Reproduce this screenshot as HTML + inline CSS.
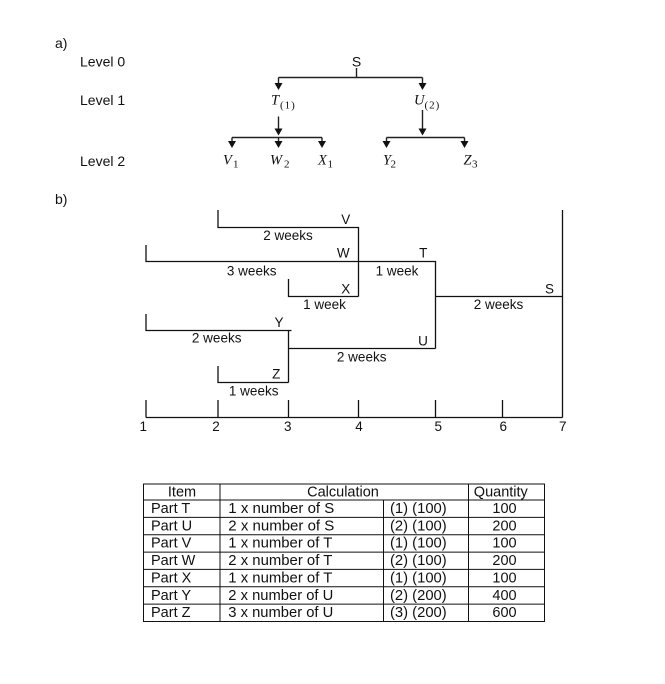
<!DOCTYPE html>
<html>
<head>
<meta charset="utf-8">
<style>
  html, body { margin:0; padding:0; background:#fff; }
  svg { display:block; }
  .s { font-family: "Liberation Sans", sans-serif; fill:#111; }
  .m { font-family: "Liberation Serif", serif; font-style: italic; fill:#111; }
  .sub { font-family: "Liberation Serif", serif; font-style: normal; fill:#111; }
</style>
</head>
<body>
<svg width="665" height="684" viewBox="0 0 665 684" xmlns="http://www.w3.org/2000/svg">
  <rect width="665" height="684" fill="#fff"/>

  <!-- ===== a) ===== -->
  <text class="s" x="55" y="48" font-size="14">a)</text>
  <text class="s" x="80" y="66.5" font-size="14">Level 0</text>
  <text class="s" x="80" y="105" font-size="14">Level 1</text>
  <text class="s" x="80" y="166" font-size="14">Level 2</text>

  <text class="s" x="356.5" y="66.7" font-size="14" text-anchor="middle">S</text>

  <g stroke="#222" stroke-width="1.4" fill="none">
    <line x1="356.5" y1="68" x2="356.5" y2="77.5"/>
    <line x1="278.5" y1="77.5" x2="422.5" y2="77.5"/>
    <line x1="278.5" y1="77.5" x2="278.5" y2="85"/>
    <line x1="422.5" y1="77.5" x2="422.5" y2="85"/>
    <!-- T stem -->
    <line x1="278.5" y1="116.5" x2="278.5" y2="131"/>
    <line x1="232" y1="137.5" x2="322" y2="137.5"/>
    <line x1="232" y1="137.5" x2="232" y2="143"/>
    <line x1="278.5" y1="137.5" x2="278.5" y2="143"/>
    <line x1="322" y1="137.5" x2="322" y2="143"/>
    <!-- U stem -->
    <line x1="422.5" y1="110" x2="422.5" y2="131"/>
    <line x1="386.5" y1="137.5" x2="464.5" y2="137.5"/>
    <line x1="386.5" y1="137.5" x2="386.5" y2="143"/>
    <line x1="464.5" y1="137.5" x2="464.5" y2="143"/>
  </g>
  <g fill="#111">
    <polygon points="274.5,83 282.5,83 278.5,90"/>
    <polygon points="418.5,83 426.5,83 422.5,90"/>
    <polygon points="274.5,128.5 282.5,128.5 278.5,135.5"/>
    <polygon points="418.5,128.5 426.5,128.5 422.5,135.5"/>
    <polygon points="228,141 236,141 232,148"/>
    <polygon points="274.5,141 282.5,141 278.5,148"/>
    <polygon points="318,141 326,141 322,148"/>
    <polygon points="382.5,141 390.5,141 386.5,148"/>
    <polygon points="460.5,141 468.5,141 464.5,148"/>
  </g>

  <!-- level 1 labels -->
  <text class="m" x="271" y="104.5" font-size="14.5">T</text>
  <text class="sub" x="280" y="108.5" font-size="11" letter-spacing="1">(1)</text>
  <text class="m" x="414" y="104.5" font-size="14.5">U</text>
  <text class="sub" x="424.5" y="108.5" font-size="11" letter-spacing="1">(2)</text>

  <!-- level 2 labels -->
  <text class="m" x="223" y="164.5" font-size="14.5">V</text>
  <text class="sub" x="233" y="167.5" font-size="11">1</text>
  <text class="m" x="270" y="164.5" font-size="14.5">W</text>
  <text class="sub" x="284" y="167.5" font-size="11">2</text>
  <text class="m" x="318" y="164.5" font-size="14.5">X</text>
  <text class="sub" x="327.5" y="167.5" font-size="11">1</text>
  <text class="m" x="383" y="164.5" font-size="14.5">Y</text>
  <text class="sub" x="390.5" y="167.5" font-size="11">2</text>
  <text class="m" x="463.5" y="164.5" font-size="14.5">Z</text>
  <text class="sub" x="472" y="167.5" font-size="11">3</text>

  <!-- ===== b) ===== -->
  <text class="s" x="55" y="204" font-size="14">b)</text>

  <g stroke="#111" stroke-width="1.3" fill="none">
    <polyline points="218,210 218,227.5 358.5,227.5 358.5,296.5"/>
    <polyline points="146,245 146,261.5 435.5,261.5 435.5,348.5"/>
    <polyline points="288.5,279 288.5,296.5 358.5,296.5"/>
    <line x1="435.5" y1="296.5" x2="562.5" y2="296.5"/>
    <line x1="562.5" y1="210" x2="562.5" y2="417.5"/>
    <polyline points="146,314 146,330.5 291.5,330.5"/>
    <line x1="288.5" y1="330.5" x2="288.5" y2="382.5"/>
    <line x1="288.5" y1="348.5" x2="435.5" y2="348.5"/>
    <polyline points="218,366 218,382.5 288.5,382.5"/>
    <!-- axis -->
    <line x1="146" y1="417.5" x2="562.5" y2="417.5"/>
    <line x1="146" y1="400" x2="146" y2="417.5"/>
    <line x1="218" y1="400" x2="218" y2="417.5"/>
    <line x1="288.5" y1="400" x2="288.5" y2="417.5"/>
    <line x1="358.5" y1="400" x2="358.5" y2="417.5"/>
    <line x1="435.5" y1="400" x2="435.5" y2="417.5"/>
    <line x1="502.5" y1="400" x2="502.5" y2="417.5"/>
  </g>

  <g class="s" font-size="13.5" text-anchor="middle">
    <text x="345.7" y="224">V</text>
    <text x="288" y="240">2 weeks</text>
    <text x="343.3" y="257.3">W</text>
    <text x="423.3" y="257.3">T</text>
    <text x="251.7" y="275.7">3 weeks</text>
    <text x="397" y="275.7">1 week</text>
    <text x="345.7" y="293.3">X</text>
    <text x="549.5" y="293.3">S</text>
    <text x="324.5" y="309">1 week</text>
    <text x="498.5" y="309">2 weeks</text>
    <text x="279" y="327">Y</text>
    <text x="216.7" y="342.7">2 weeks</text>
    <text x="423" y="345.5">U</text>
    <text x="361.7" y="361.7">2 weeks</text>
    <text x="276.3" y="378.3">Z</text>
    <text x="253.7" y="395.7">1 weeks</text>
    <!-- axis numbers -->
    <text x="143.3" y="430.8">1</text>
    <text x="216" y="430.8">2</text>
    <text x="287.7" y="430.8">3</text>
    <text x="359" y="430.8">4</text>
    <text x="438.3" y="430.8">5</text>
    <text x="503.3" y="430.8">6</text>
    <text x="562.7" y="430.8">7</text>
  </g>

  <!-- ===== table ===== -->
  <g stroke="#111" stroke-width="1" fill="none">
    <rect x="143.5" y="484" width="401" height="137.5"/>
    <line x1="220" y1="484" x2="220" y2="621.5"/>
    <line x1="468.5" y1="484" x2="468.5" y2="621.5"/>
    <line x1="383.5" y1="500" x2="383.5" y2="621.5"/>
    <line x1="143.5" y1="500" x2="544.5" y2="500"/>
    <line x1="143.5" y1="517.4" x2="544.5" y2="517.4"/>
    <line x1="143.5" y1="534.7" x2="544.5" y2="534.7"/>
    <line x1="143.5" y1="552.1" x2="544.5" y2="552.1"/>
    <line x1="143.5" y1="569.4" x2="544.5" y2="569.4"/>
    <line x1="143.5" y1="586.8" x2="544.5" y2="586.8"/>
    <line x1="143.5" y1="604.1" x2="544.5" y2="604.1"/>
  </g>

  <g class="s" font-size="14.5">
    <text x="182" y="496.5" text-anchor="middle">Item</text>
    <text x="343" y="496.5" text-anchor="middle">Calculation</text>
    <text x="500.8" y="496.5" text-anchor="middle">Quantity</text>

    <text x="151" y="513">Part T</text>
    <text x="151" y="530.4">Part U</text>
    <text x="151" y="547.7">Part V</text>
    <text x="151" y="565.1">Part W</text>
    <text x="151" y="582.4">Part X</text>
    <text x="151" y="599.8">Part Y</text>
    <text x="151" y="617.1">Part Z</text>

    <text x="228.3" y="513" textLength="106" lengthAdjust="spacingAndGlyphs">1 x number of S</text>
    <text x="228.3" y="530.4" textLength="106" lengthAdjust="spacingAndGlyphs">2 x number of S</text>
    <text x="228.3" y="547.7" textLength="104" lengthAdjust="spacingAndGlyphs">1 x number of T</text>
    <text x="228.3" y="565.1" textLength="104" lengthAdjust="spacingAndGlyphs">2 x number of T</text>
    <text x="228.3" y="582.4" textLength="104" lengthAdjust="spacingAndGlyphs">1 x number of T</text>
    <text x="228.3" y="599.8" textLength="105" lengthAdjust="spacingAndGlyphs">2 x number of U</text>
    <text x="228.3" y="617.1" textLength="105" lengthAdjust="spacingAndGlyphs">3 x number of U</text>

    <text x="390" y="513" textLength="56.7" lengthAdjust="spacingAndGlyphs">(1) (100)</text>
    <text x="390" y="530.4" textLength="56.7" lengthAdjust="spacingAndGlyphs">(2) (100)</text>
    <text x="390" y="547.7" textLength="56.7" lengthAdjust="spacingAndGlyphs">(1) (100)</text>
    <text x="390" y="565.1" textLength="56.7" lengthAdjust="spacingAndGlyphs">(2) (100)</text>
    <text x="390" y="582.4" textLength="56.7" lengthAdjust="spacingAndGlyphs">(1) (100)</text>
    <text x="390" y="599.8" textLength="56.7" lengthAdjust="spacingAndGlyphs">(2) (200)</text>
    <text x="390" y="617.1" textLength="56.7" lengthAdjust="spacingAndGlyphs">(3) (200)</text>

    <text x="504.5" y="513" text-anchor="middle">100</text>
    <text x="504.5" y="530.4" text-anchor="middle">200</text>
    <text x="504.5" y="547.7" text-anchor="middle">100</text>
    <text x="504.5" y="565.1" text-anchor="middle">200</text>
    <text x="504.5" y="582.4" text-anchor="middle">100</text>
    <text x="504.5" y="599.8" text-anchor="middle">400</text>
    <text x="504.5" y="617.1" text-anchor="middle">600</text>
  </g>
</svg>
</body>
</html>
